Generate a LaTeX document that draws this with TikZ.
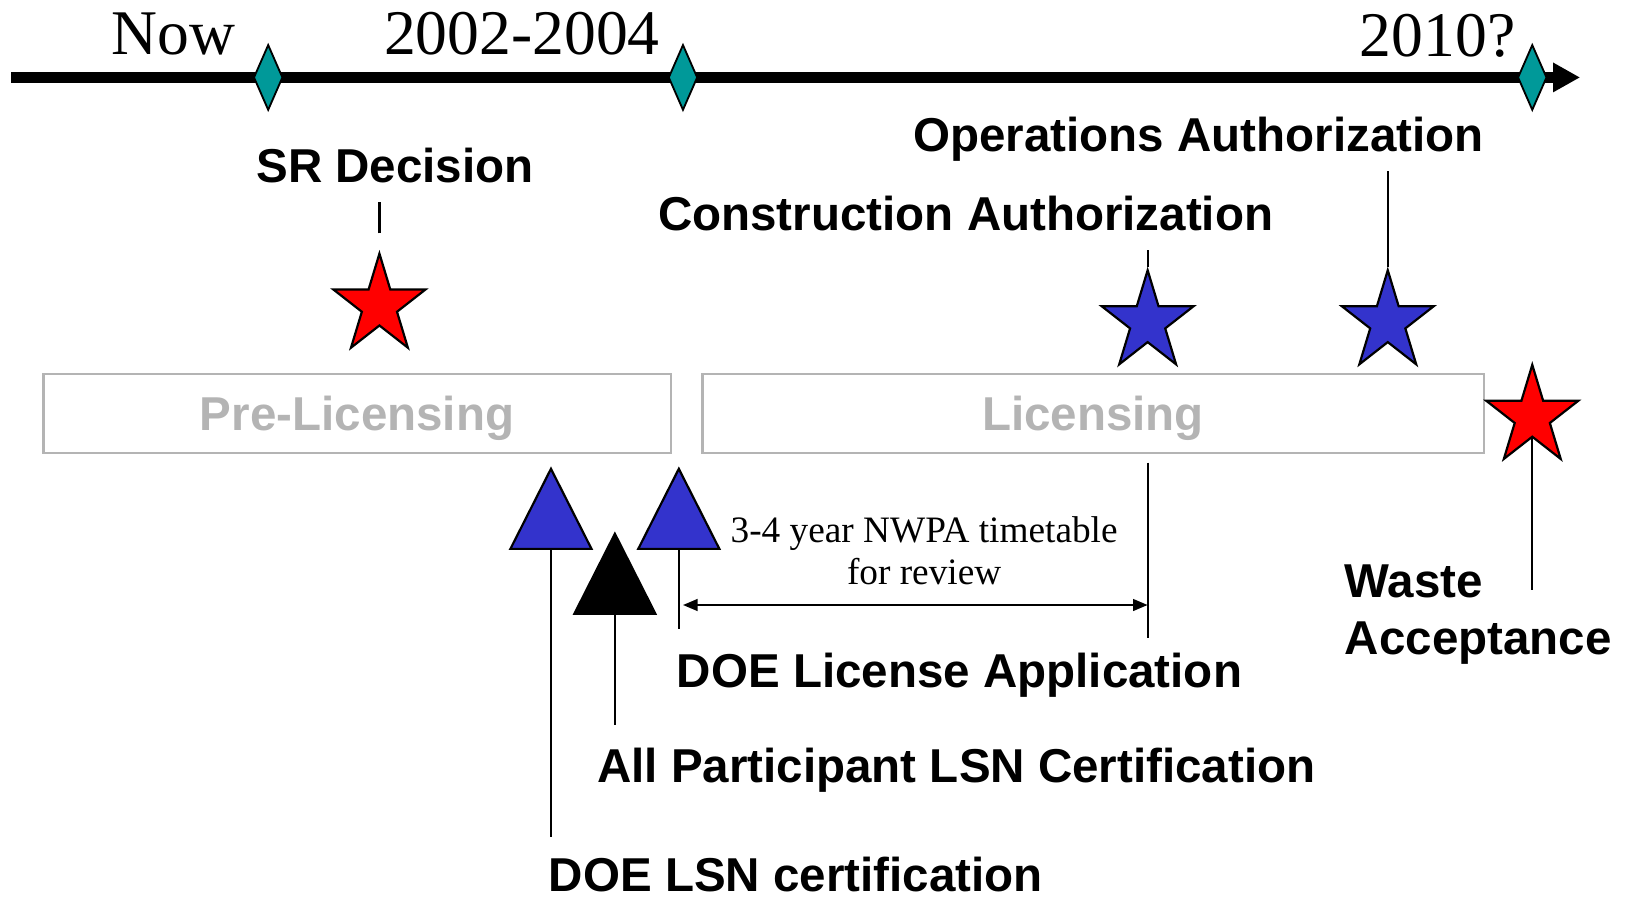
\documentclass[tikz,border=0pt]{standalone}
\usepackage{fontspec}
\setmainfont{Liberation Serif}
\newfontfamily\headfont{Liberation Sans}
\usetikzlibrary{arrows.meta,positioning,shapes.geometric}
\definecolor{milestonecol}{RGB}{0,153,153}
\definecolor{nrcblue}{RGB}{51,51,204}
\definecolor{doered}{RGB}{255,0,0}
\definecolor{phasegray}{RGB}{180,180,180}

\begin{document}
\begin{tikzpicture}[x=0.01cm,y=-0.01cm,
    yeartext/.style={font=\fontsize{17.4}{20}\selectfont,inner sep=0pt},
    eventtext/.style={font=\headfont\bfseries\fontsize{13}{15.6}\selectfont,inner sep=0pt},
    notetext/.style={font=\fontsize{10.2}{11.4}\selectfont,inner sep=0pt,align=center},
    phasebox/.style={draw=phasegray,line width=0.6pt,text=phasegray,minimum height=0.76cm,
      text depth=0pt,font=\headfont\bfseries\fontsize{13}{15.6}\selectfont},
    milestone/.style={diamond,draw,fill=milestonecol,line width=0.5pt,inner sep=0pt,
      minimum width=0.28cm,minimum height=0.63cm},
    starmark/.style={star,star points=5,star point ratio=2.618,draw,line width=0.6pt,
      inner sep=0pt,minimum size=1cm,xscale=0.93,transform shape},
    conn/.style={line width=0.6pt}]
  \useasboundingbox (0,0) rectangle (1568,864);

  % time line with the three milestones
  \coordinate (tstart) at (11,74.5);
  \coordinate (tend)   at (1520,74.5);
  \draw[line width=3.1pt,-{Triangle[length=7.4pt,width=7.6pt]}] (tstart) -- (tend);
  \node[milestone] (now)  at (258,74.5)  {};
  \node[milestone] (lsn)  at (657,74.5)  {};
  \node[milestone] (wa)   at (1474,74.5) {};
  \node[yeartext,anchor=base] (nowtxt)  at (167,52)    {Now};
  \node[yeartext,anchor=base] (lsntxt)  at (502,52)    {2002-2004};
  \node[yeartext,anchor=base] (watxt)   at (1383,54)   {2010?};

  % phases
  \node[phasebox,minimum width=6.03cm] (prelic) at (343.5,398) {Pre-Licensing};
  \node[phasebox,minimum width=7.51cm] (lic)    at (1051.5,398) {Licensing};

  % stars
  \node[starmark,fill=doered]  (srstar) at (365,294)  {};
  \node[starmark,fill=nrcblue] (castar) at (1104,310) {};
  \node[starmark,fill=nrcblue] (oastar) at (1335,310) {};
  \node[starmark,fill=doered]  (wastar) at (1474,401) {};

  \node[eventtext,anchor=base] (sr) at (380,176)  {SR Decision};
  \node[eventtext,anchor=base] (ca) at (929,222)  {Construction Authorization};
  \node[eventtext,anchor=base] (oa) at (1153,146) {Operations Authorization};
  \node[eventtext,anchor=north west,align=left] (waste) at (1293,543) {Waste\\Acceptance};

  \draw[conn] (srstar.north) ++(0,-16) -- ++(0,-30);
  \draw[conn] (castar.north) -- ++(0,-16);
  \draw[conn] (oastar.north) -- ++(0,-92);
  \coordinate (wasteend) at (1474,568);
  \draw[conn] (wastar.south) -- (wasteend);

  % triangles for the license application steps
  \coordinate (doelsn) at (530,528);
  \coordinate (alllsn) at (591.5,590.5);
  \coordinate (doela)  at (653,528);
  \coordinate (doelsnend) at (530,805);
  \coordinate (alllsnend) at (591.5,697);
  \coordinate (doelaend)  at (653,605);
  \draw[conn] (doelsn) -- (doelsnend);
  \draw[conn] (alllsn) -- (alllsnend);
  \draw[conn] (doela)  -- (doelaend);
  \draw[fill=nrcblue,line width=0.6pt] (doelsn) ++(-39,0) -- ++(39,-77) -- ++(39,77) -- cycle;
  \draw[fill=black,line width=0.6pt]   (alllsn) ++(-39,0) -- ++(39,-77) -- ++(39,77) -- cycle;
  \draw[fill=nrcblue,line width=0.6pt] (doela)  ++(-39,0) -- ++(39,-77) -- ++(39,77) -- cycle;

  \node[eventtext,anchor=base] (la)   at (923,661) {DOE License Application};
  \node[eventtext,anchor=base] (apl)  at (920,753) {All Participant LSN Certification};
  \node[eventtext,anchor=base] (dlsn) at (765.5,858) {DOE LSN certification};

  % review period
  \coordinate (revtop) at (1104,445);
  \coordinate (revbot) at (1104,614);
  \draw[conn] (revtop) -- (revbot);
  \coordinate (revl) at (657,582);
  \coordinate (revr) at (1104,582);
  \draw[conn,{Triangle[length=4pt,width=3.2pt]}-{Triangle[length=4pt,width=3.2pt]}] (revl) -- (revr);
  \node[notetext,anchor=north] (nwpa) at (889,496.5) {3-4 year NWPA timetable\\for review};
\end{tikzpicture}
\end{document}
